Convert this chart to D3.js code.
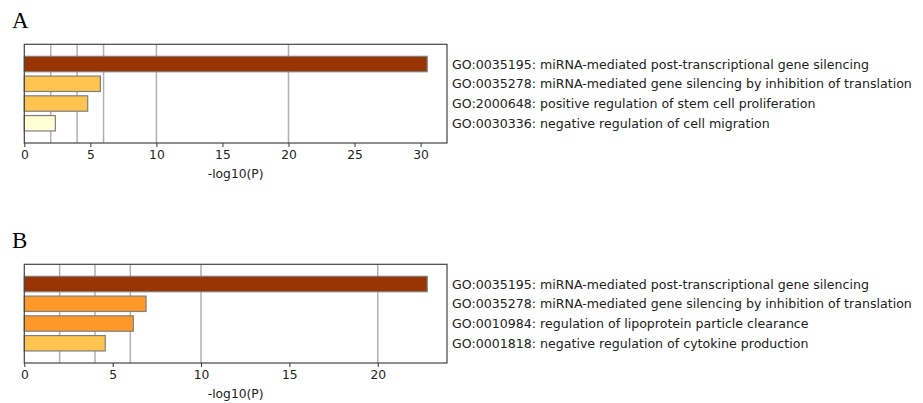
<!DOCTYPE html>
<html>
<head>
<meta charset="utf-8">
<script src="https://cdn.jsdelivr.net/npm/d3@7"></script>
<style>
  html, body { margin: 0; padding: 0; background: #fff; }
  svg { display: block; }
</style>
</head>
<body>
<div id="chart"></div>
<script>
// ---- data ----
const termsA = [
  "GO:0035195: miRNA-mediated post-transcriptional gene silencing",
  "GO:0035278: miRNA-mediated gene silencing by inhibition of translation",
  "GO:2000648: positive regulation of stem cell proliferation",
  "GO:0030336: negative regulation of cell migration"
];
const valuesA = [30.5, 5.76, 4.8, 2.35];
const ticksA = [0, 5, 10, 15, 20, 25, 30];

const termsB = [
  "GO:0035195: miRNA-mediated post-transcriptional gene silencing",
  "GO:0035278: miRNA-mediated gene silencing by inhibition of translation",
  "GO:0010984: regulation of lipoprotein particle clearance",
  "GO:0001818: negative regulation of cytokine production"
];
const valuesB = [22.8, 6.89, 6.17, 4.58];
const ticksB = [0, 5, 10, 15, 20];

const gridLines = [2, 4, 6, 10, 20];
const panelLabels = ["A", "B"];
const xLabel = "-log10(P)";

// ---- drawing ----
const W = 923, H = 403;
const svg = d3.select("#chart").append("svg").attr("width", W).attr("height", H);

const color = d3.scaleThreshold()
  .domain([3, 6, 10])
  .range(["#FFFFD4", "#FEC44F", "#FE9929", "#993404"]);

function panel(label, terms, values, ticks, xmax, top) {
  const left = 24.3, right = 447, height = 98.7;
  const bottom = top + height;
  const g = svg.append("g");

  const x = d3.scaleLinear().domain([0, xmax]).range([left, right]);
  const y = d3.scaleLinear().domain([-1, terms.length]).range([top, bottom]);
  const barH = (y(1) - y(0)) * 0.78;

  // panel letter
  g.append("text")
    .attr("x", 12).attr("y", top - 16)
    .attr("font-family", "'Liberation Serif', 'Times New Roman', serif")
    .attr("font-size", 23)
    .attr("fill", "#000")
    .text(label);

  // grid lines
  g.selectAll("line.grid").data(gridLines.filter(v => v <= xmax)).enter()
    .append("line").attr("class", "grid")
    .attr("x1", d => x(d)).attr("x2", d => x(d))
    .attr("y1", top).attr("y2", bottom)
    .attr("stroke", "#b0b0b0").attr("stroke-width", 1.5);

  // bars
  g.selectAll("rect.bar").data(values).enter()
    .append("rect").attr("class", "bar")
    .attr("x", x(0))
    .attr("y", (d, i) => y(i) - barH / 2)
    .attr("width", d => x(d) - x(0))
    .attr("height", barH)
    .attr("fill", d => color(d))
    .attr("stroke", "#7f7f7f").attr("stroke-width", 1.2);

  // frame
  g.append("rect")
    .attr("x", left).attr("y", top)
    .attr("width", right - left).attr("height", height)
    .attr("fill", "none").attr("stroke", "#444").attr("stroke-width", 1.2);

  // x axis
  const axis = d3.axisBottom(x).tickValues(ticks).tickSize(4).tickPadding(3).tickFormat(d3.format("d"));
  const ax = g.append("g").attr("transform", `translate(0,${bottom})`).call(axis);
  ax.select(".domain").remove();
  ax.selectAll(".tick line").attr("stroke", "#333").attr("stroke-width", 1);
  ax.selectAll(".tick text")
    .attr("font-family", "'DejaVu Sans', sans-serif")
    .attr("font-size", 12.3)
    .attr("fill", "#222");

  g.append("text")
    .attr("x", (left + right) / 2).attr("y", bottom + 31)
    .attr("text-anchor", "middle")
    .attr("dominant-baseline", "central")
    .attr("font-family", "'DejaVu Sans', sans-serif")
    .attr("font-size", 12.3)
    .attr("fill", "#222")
    .text(xLabel);

  // term labels
  g.selectAll("text.term").data(terms).enter()
    .append("text").attr("class", "term")
    .attr("x", 452)
    .attr("y", (d, i) => y(i))
    .attr("dominant-baseline", "central")
    .attr("font-family", "'DejaVu Sans', sans-serif")
    .attr("font-size", 12.6)
    .attr("fill", "#222")
    .text(d => d);
}

panel(panelLabels[0], termsA, valuesA, ticksA, 32, 44.3);
panel(panelLabels[1], termsB, valuesB, ticksB, 23.92, 264.3);
</script>
</body>
</html>
